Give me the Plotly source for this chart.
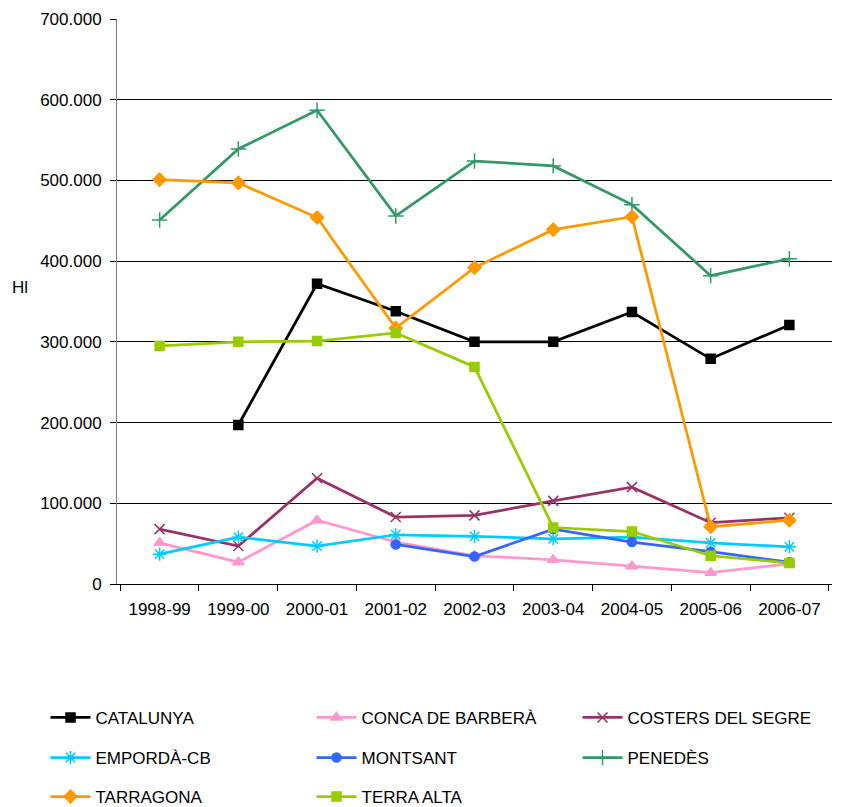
import plotly.graph_objects as go

campaigns = ["1998-99", "1999-00", "2000-01", "2001-02", "2002-03",
             "2003-04", "2004-05", "2005-06", "2006-07"]

catalunya = [None, 197000, 372000, 338000, 300000, 300000, 337000, 279000, 321000]
conca_de_barbera = [51000, 27000, 79000, 52000, 35000, 30000, 22000, 14000, 25000]
costers_del_segre = [68000, 47000, 131000, 83000, 85000, 103000, 120000, 76000, 82000]
emporda_cb = [37000, 58000, 47000, 61000, 59000, 56000, 58000, 51000, 46000]
montsant = [None, None, None, 49000, 34000, 68000, 52000, 40000, 27000]
penedes = [451000, 539000, 587000, 456000, 524000, 518000, 470000, 382000, 403000]
tarragona = [501000, 497000, 454000, 317000, 392000, 439000, 455000, 71000, 79000]
terra_alta = [295000, 300000, 301000, 311000, 269000, 70000, 65000, 35000, 26000]

series = [
    ("CATALUNYA", catalunya, "#000000", "square", 9, "legend"),
    ("CONCA DE BARBERÀ", conca_de_barbera, "#FF99CC", "triangle-up", 10, "legend"),
    ("COSTERS DEL SEGRE", costers_del_segre, "#993366", "x-thin-open", 10, "legend"),
    ("EMPORDÀ-CB", emporda_cb, "#00CCFF", "asterisk-open", 11, "legend2"),
    ("MONTSANT", montsant, "#3366FF", "circle", 9, "legend2"),
    ("PENEDÈS", penedes, "#339966", "cross-thin-open", 11, "legend2"),
    ("TARRAGONA", tarragona, "#FF9900", "diamond", 10, "legend3"),
    ("TERRA ALTA", terra_alta, "#99CC00", "square", 9, "legend3"),
]

fig = go.Figure()
for name, vals, col, sym, size, leg in series:
    fig.add_trace(go.Scatter(
        x=campaigns, y=vals, name=name, mode="lines+markers",
        line=dict(color=col, width=2.75),
        marker=dict(symbol=sym, size=size, color=col,
                    line=dict(color=col, width=1.5)),
        legend=leg,
    ))

font = dict(family="Liberation Sans, Arial, sans-serif", size=17, color="#000")
# page body has an 8px margin, so the figure is drawn 8px smaller
leg_common = dict(orientation="h", x=-0.1, xanchor="left", yanchor="middle",
                  entrywidth=211, entrywidthmode="pixels", font=font,
                  bgcolor="rgba(0,0,0,0)", itemwidth=40)

fig.update_layout(
    width=842, height=799,
    margin=dict(l=109, r=18, t=11, b=223, autoexpand=False),
    plot_bgcolor="white", paper_bgcolor="white",
    font=font,
    separators=",.",
    legend=dict(leg_common, y=-0.237),
    legend2=dict(leg_common, y=-0.308),
    legend3=dict(leg_common, y=-0.377),
    xaxis=dict(type="category", showline=True, linecolor="#000", linewidth=1,
               ticks="outside", ticklen=6, tickcolor="#000", tickson="boundaries",
               showgrid=False, tickfont=font, automargin=False,
               ticklabelstandoff=10),
    yaxis=dict(range=[0, 700000], dtick=100000, tickformat=",d",
               showline=True, linecolor="#777", linewidth=1,
               ticks="outside", ticklen=6, tickcolor="#000",
               showgrid=True, gridcolor="#000", gridwidth=1,
               zeroline=False, tickfont=font, automargin=False,
               ticklabelstandoff=5),
    annotations=[dict(text="Hl", xref="paper", yref="paper", x=-0.136, y=0.524,
                      showarrow=False, font=font, xanchor="center")],
)

fig.write_html("out.html")
